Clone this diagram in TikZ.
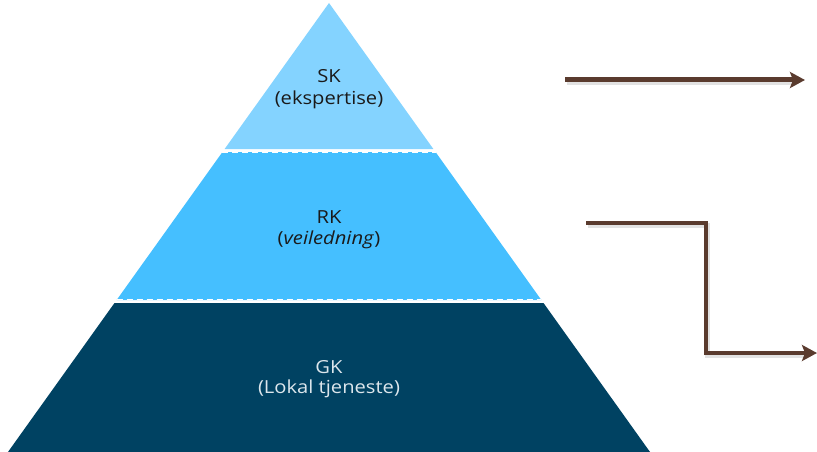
\documentclass[tikz,border=0pt]{standalone}
\usepackage{fontspec}
\setmainfont{Open Sans}
\usetikzlibrary{arrows.meta}
\definecolor{lvlone}{HTML}{84D3FF}
\definecolor{lvltwo}{HTML}{45BFFF}
\definecolor{lvlthree}{HTML}{004262}
\definecolor{arrowbrown}{HTML}{5A3B2E}
\definecolor{txtdark}{HTML}{1A1A1A}
\definecolor{txtlight}{HTML}{DCE6EC}
\newcommand\widetxt[1]{\scalebox{1.12}[1]{#1}}
\begin{document}
\begin{tikzpicture}[x=1pt,y=-1pt,
  lbl/.style={font=\fontsize{18}{22}\selectfont, inner sep=0pt, anchor=base},
  conn/.style={draw=arrowbrown, line width=5pt, line join=miter,
     -{Stealth[length=15pt,width=16pt,inset=3pt]}},
  shade/.style={draw=black!25, opacity=0.45, line width=5pt, line join=miter}]
\useasboundingbox (0,0) rectangle (817,452);
% pyramid: apex (329,3), slope 0.715 px per px
\fill[lvlone] (329,3) -- (329+0.715*146,149) -- (329-0.715*146,149) -- cycle;
\fill[lvltwo] (329-0.715*149,152) -- (329+0.715*149,152) -- (329+0.715*297,300) -- (329-0.715*297,300) -- cycle;
\fill[lvlthree] (329-0.715*300,303) -- (329+0.715*300,303) -- (329+0.715*449,452) -- (329-0.715*449,452) -- cycle;
\draw[white, line width=0.8pt, dash pattern=on 6pt off 4pt] (329-0.715*149,152.6) -- (329+0.715*149,152.6);
\draw[white, line width=0.8pt, dash pattern=on 6pt off 4pt] (329-0.715*297,299.4) -- (329+0.715*297,299.4);
% labels
\node[lbl, text=txtdark] (sk1) at (329,83) {\widetxt{SK}};
\node[lbl, text=txtdark] (sk2) at (329,104.5) {\widetxt{(ekspertise)}};
\node[lbl, text=txtdark] (rk1) at (329,223) {\widetxt{RK}};
\node[lbl, text=txtdark] (rk2) at (329,244.5) {\widetxt{(\textit{veiledning})}};
\node[lbl, text=txtlight] (gk1) at (329,373.5) {\widetxt{GK}};
\node[lbl, text=txtlight] (gk2) at (329,393) {\widetxt{(Lokal tjeneste)}};
% arrows
\coordinate (a1s) at (565,80);
\coordinate (a1e) at (805,80);
\coordinate (a2s) at (586,223);
\coordinate (a2m1) at (706,223);
\coordinate (a2m2) at (706,353);
\coordinate (a2e) at (817,353);
\draw[shade] ([shift={(1.5,2.5)}]a1s) -- ([shift={(-8,2.5)}]a1e);
\draw[shade] ([shift={(1.5,2.5)}]a2s) -- ([shift={(1.5,2.5)}]a2m1) -- ([shift={(1.5,2.5)}]a2m2) -- ([shift={(-8,2.5)}]a2e);
\draw[conn] (a1s) -- (a1e);
\draw[conn, line width=4.5pt] (a2s) -- (a2m1) -- (a2m2) -- (a2e);
\end{tikzpicture}
\end{document}
